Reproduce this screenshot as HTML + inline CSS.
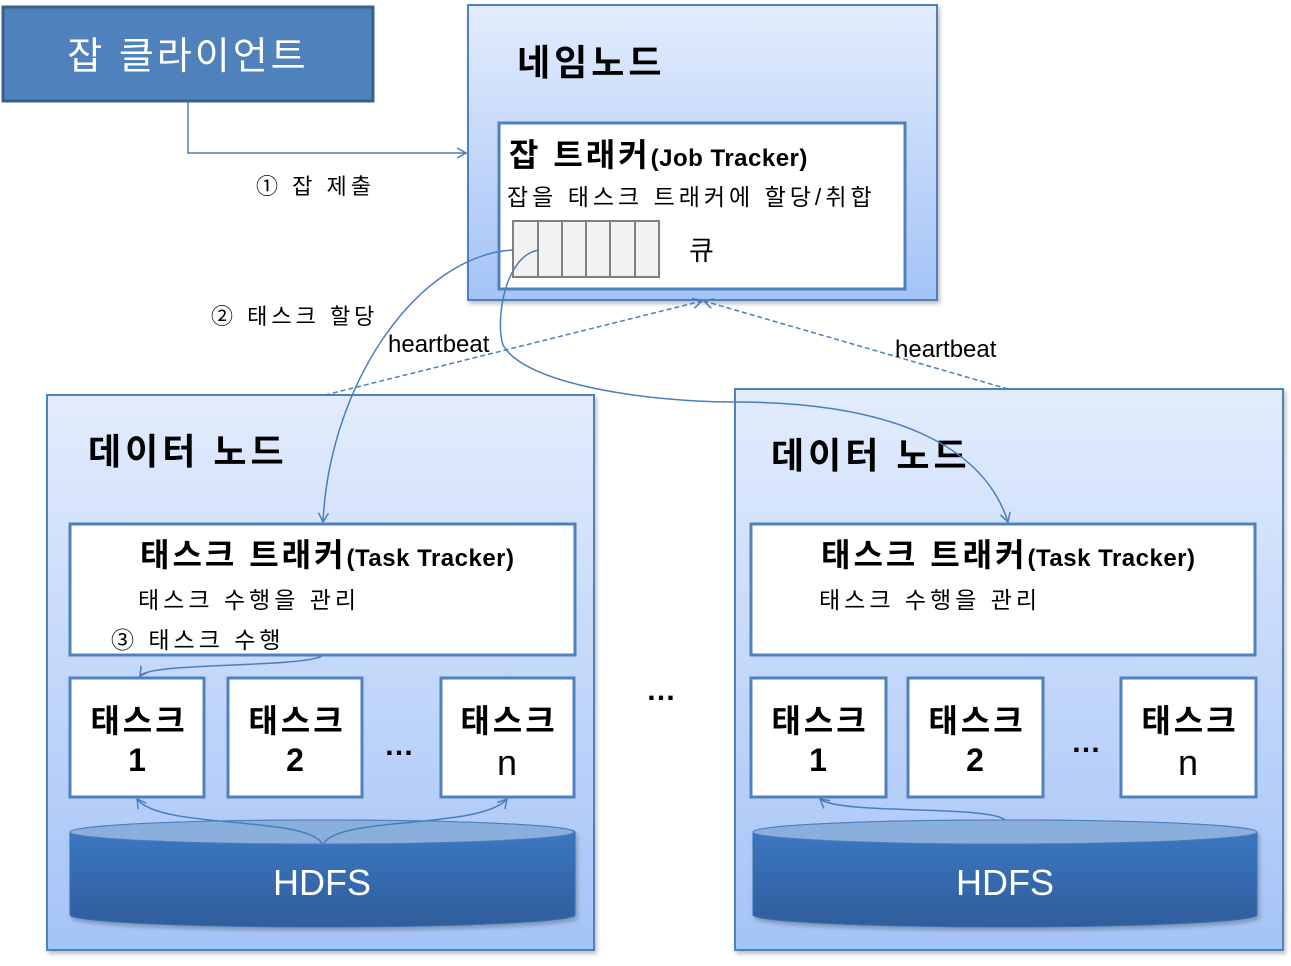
<!DOCTYPE html>
<html><head><meta charset="utf-8"><style>
html,body{margin:0;padding:0;background:#fff;}
svg text{font-family:"Liberation Sans","Noto Sans CJK KR",sans-serif;}
</style></head><body>
<svg width="1291" height="961" viewBox="0 0 1291 961" xmlns="http://www.w3.org/2000/svg">
<defs>
<linearGradient id="bg" x1="0" y1="0" x2="0" y2="1"><stop offset="0" stop-color="#e3ecfd"/><stop offset="1" stop-color="#a4c3f7"/></linearGradient>
<linearGradient id="hd" x1="0" y1="0" x2="0" y2="1"><stop offset="0" stop-color="#3d7ac6"/><stop offset="1" stop-color="#2f5d9b"/></linearGradient>
<marker id="ar" viewBox="0 0 12 12" refX="10" refY="6" markerWidth="12" markerHeight="12" markerUnits="userSpaceOnUse" orient="auto"><path d="M1,1 L10,6 L1,11" fill="none" stroke="#4a7ebb" stroke-width="1.5"/></marker>
<filter id="sh" x="-5%" y="-5%" width="110%" height="110%"><feDropShadow dx="2" dy="3" stdDeviation="2" flood-color="#000" flood-opacity="0.25"/></filter>
</defs>

<!-- client -->
<rect x="3" y="7" width="370" height="94" fill="#4f81bd" stroke="#3a5f8c" stroke-width="3"/>
<text x="188" y="69" font-size="38" fill="#fff" text-anchor="middle" letter-spacing="3">잡 클라이언트</text>
<path d="M188,102 V153 H466" fill="none" stroke="#4a7ebb" stroke-width="1.5" marker-end="url(#ar)"/>
<text x="256" y="194" font-size="22" fill="#000" letter-spacing="4">① 잡 제출</text>

<!-- name node -->
<rect x="468" y="5" width="469" height="295" fill="url(#bg)" stroke="#4f81bd" stroke-width="2" filter="url(#sh)"/>
<text x="517" y="75" font-size="36" font-weight="bold" fill="#000" letter-spacing="4">네임노드</text>
<rect x="499" y="123" width="406" height="166" fill="#fff" stroke="#4f81bd" stroke-width="3"/>
<text x="509" y="166" font-size="32" font-weight="bold" fill="#000"><tspan letter-spacing="3">잡 트래커</tspan><tspan font-size="24" letter-spacing="0.5">(Job Tracker)</tspan></text>
<text x="507" y="205" font-size="23" fill="#000" letter-spacing="4">잡을 태스크 트래커에 할당/취합</text>
<g fill="#f2f2f2" stroke="#808080" stroke-width="2">
<rect x="513" y="221" width="25" height="56"/><rect x="538" y="221" width="24" height="56"/><rect x="562" y="221" width="24" height="56"/><rect x="586" y="221" width="24" height="56"/><rect x="610" y="221" width="25" height="56"/><rect x="635" y="221" width="24" height="56"/>
</g>
<text x="689" y="260" font-size="27" fill="#000">큐</text>

<!-- data nodes -->
<rect x="47" y="395" width="547" height="555" fill="url(#bg)" stroke="#4f81bd" stroke-width="2" filter="url(#sh)"/>
<rect x="735" y="389" width="548" height="561" fill="url(#bg)" stroke="#4f81bd" stroke-width="2" filter="url(#sh)"/>
<text x="88" y="464" font-size="36" font-weight="bold" fill="#000" letter-spacing="4">데이터 노드</text>
<text x="771" y="468" font-size="36" font-weight="bold" fill="#000" letter-spacing="4">데이터 노드</text>

<g fill="#fff" stroke="#4f81bd" stroke-width="3">
<rect x="70" y="524" width="505" height="131"/>
<rect x="751" y="524" width="504" height="131"/>
<rect x="70" y="678" width="134" height="119"/><rect x="228" y="678" width="134" height="119"/><rect x="441" y="678" width="133" height="119"/>
<rect x="751" y="678" width="135" height="119"/><rect x="908" y="678" width="135" height="119"/><rect x="1121" y="678" width="135" height="119"/>
</g>
<text x="140" y="566" font-size="32" font-weight="bold" fill="#000"><tspan letter-spacing="3">태스크 트래커</tspan><tspan font-size="24" letter-spacing="0.5">(Task Tracker)</tspan></text>
<text x="821" y="566" font-size="32" font-weight="bold" fill="#000"><tspan letter-spacing="3">태스크 트래커</tspan><tspan font-size="24" letter-spacing="0.5">(Task Tracker)</tspan></text>
<text x="138" y="608" font-size="23" fill="#000" letter-spacing="4">태스크 수행을 관리</text>
<text x="819" y="608" font-size="23" fill="#000" letter-spacing="4">태스크 수행을 관리</text>
<text x="111" y="648" font-size="23" fill="#000" letter-spacing="4">③ 태스크 수행</text>

<g font-size="32" font-weight="bold" fill="#000" text-anchor="middle">
<text x="139" y="732" letter-spacing="3">태스크</text><text x="137" y="771">1</text>
<text x="297" y="732" letter-spacing="3">태스크</text><text x="295" y="771">2</text>
<text x="509" y="732" letter-spacing="3">태스크</text><text x="507" y="775" font-weight="normal" font-size="36">n</text>
<text x="820" y="732" letter-spacing="3">태스크</text><text x="818" y="771">1</text>
<text x="977" y="732" letter-spacing="3">태스크</text><text x="975" y="771">2</text>
<text x="1190" y="732" letter-spacing="3">태스크</text><text x="1188" y="775" font-weight="normal" font-size="36">n</text>
</g>
<g font-size="30" font-weight="bold" fill="#000" text-anchor="middle">
<text x="399" y="755">…</text><text x="1086" y="752">…</text><text x="661" y="700">…</text>
</g>

<!-- HDFS -->
<g filter="url(#sh)">
<path d="M70,832 A252,12 0 0 1 575,832 V915 A252,12 0 0 1 70,915 Z" fill="url(#hd)" stroke="#3d6fb0" stroke-width="1"/>
<path d="M753,832 A252,12 0 0 1 1257,832 V915 A252,12 0 0 1 753,915 Z" fill="url(#hd)" stroke="#3d6fb0" stroke-width="1"/>
</g>
<ellipse cx="322" cy="832" rx="252" ry="12" fill="#8aafdc" stroke="#4a7ebb" stroke-width="1"/>
<ellipse cx="1005" cy="832" rx="252" ry="12" fill="#8aafdc" stroke="#4a7ebb" stroke-width="1"/>
<text x="322" y="895" font-size="36" fill="#fff" text-anchor="middle">HDFS</text>
<text x="1005" y="895" font-size="36" fill="#fff" text-anchor="middle">HDFS</text>

<!-- connectors -->
<g fill="none" stroke="#4a7ebb" stroke-width="1.5">
<path d="M513,250 C420,255 330,380 323,522" marker-end="url(#ar)"/>
<path d="M539,250 C505,255 495,320 503,345 C525,385 650,402 735,402 C900,402 985,450 1008,522" marker-end="url(#ar)"/>
<path d="M322,656 C300,668 150,662 140,676" marker-end="url(#ar)"/>
<path d="M323,845 C310,815 160,830 137,799" marker-end="url(#ar)"/>
<path d="M323,845 C335,815 480,830 507,799" marker-end="url(#ar)"/>
<path d="M1005,820 C990,805 840,815 820,799" marker-end="url(#ar)"/>
<path d="M325,395 L702,301" stroke-dasharray="5,3" marker-end="url(#ar)"/>
<path d="M1008,389 L704,301" stroke-dasharray="5,3" marker-end="url(#ar)"/>
</g>
<text x="211" y="324" font-size="22" fill="#000" letter-spacing="4">② 태스크 할당</text>
<text x="388" y="352" font-size="24" fill="#000">heartbeat</text>
<text x="895" y="357" font-size="24" fill="#000">heartbeat</text>
</svg>
</body></html>
